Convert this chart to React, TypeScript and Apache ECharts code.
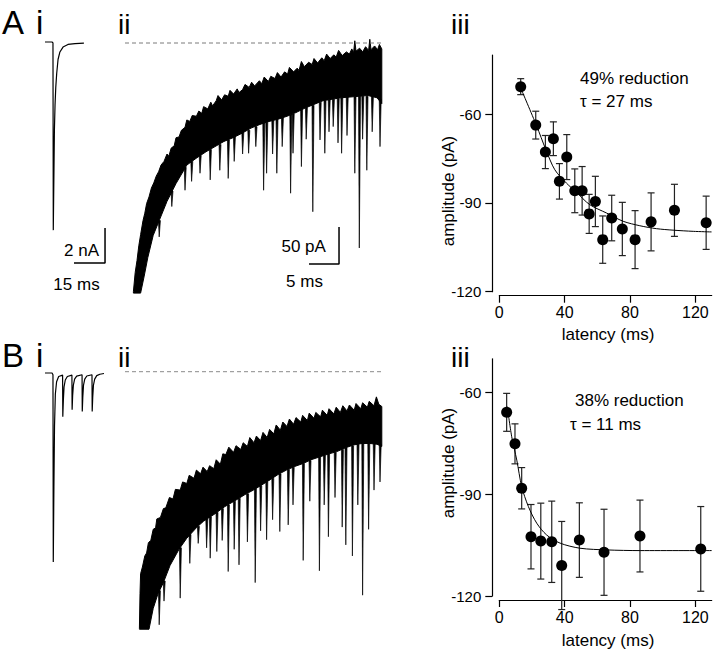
import React, { useEffect, useRef } from 'react';
import * as echarts from 'echarts';

const FONT = '"Liberation Sans", Arial, Helvetica, sans-serif';

// ---------- Panel i traces (time in ms, current in nA) ----------
const AI_TRACE = [
  [0, 0], [3.4, 0], [3.85, -0.05], [4.0, -10.75], [4.3, -7.6], [4.55, -5.0], [4.85, -3.6],
  [5.2, -2.6], [5.65, -1.8], [6.3, -1.0], [7.2, -0.57], [8.7, -0.29], [11.1, -0.14],
  [14.5, -0.09], [18.8, -0.06],
];
const BI_TRACE = [
  [0, 0], [3.4, 0], [3.85, -0.1], [4.0, -10.8], [4.3, -6.5], [4.6, -3.0], [5.0, -1.2],
  [5.6, -0.5], [6.6, -0.2], [8.5, -0.12],
  [8.6, -2.5], [8.85, -1.6], [9.2, -0.8], [9.8, -0.4], [10.8, -0.2], [13.0, -0.12],
  [13.1, -2.1], [13.35, -1.3], [13.7, -0.7], [14.3, -0.35], [15.3, -0.18], [17.9, -0.1],
  [18.0, -2.2], [18.25, -1.4], [18.6, -0.7], [19.2, -0.35], [20.2, -0.17], [22.7, -0.1],
  [22.8, -2.2], [23.05, -1.4], [23.4, -0.7], [24.0, -0.35], [25.0, -0.15], [26.5, -0.07], [28.5, -0.03],
];
const AI_SCALEBAR = [[14.0, -12.63], [29.0, -12.63], [29.0, -10.63]];

// ---------- Panel ii traces (time in ms, current in pA) ----------
const AII_UPPER = [
  [1.4, -336], [1.7, -310], [2.0, -294], [2.3, -274], [2.6, -259], [3.0, -240], [3.3, -230], [3.6, -217],
  [4.0, -208], [4.4, -196], [4.8, -189], [5.2, -180], [5.6, -174], [6.0, -165], [6.5, -160], [7.0, -150],
  [7.3, -153], [7.7, -142], [8.2, -139], [8.5, -128], [9.0, -127], [9.4, -118], [10.0, -114], [10.3, -104],
  [10.8, -106], [11.2, -98], [11.9, -99], [12.3, -92], [12.8, -95], [13.1, -86], [13.8, -89], [14.3, -80],
  [14.6, -85], [15.2, -78], [15.5, -71], [16.1, -77], [16.6, -70], [17.2, -72], [17.5, -64], [18.1, -69],
  [18.7, -62], [19.0, -67], [19.6, -63], [20.0, -56], [20.7, -60], [21.1, -53], [21.6, -58], [22.4, -51],
  [22.8, -55], [23.2, -46], [23.9, -52], [24.3, -45], [25.0, -48], [25.4, -40], [26.0, -46], [26.6, -39],
  [27.1, -42], [27.4, -33], [28.1, -39], [28.7, -34], [29.0, -37], [29.4, -25], [29.9, -32], [30.6, -26],
  [31.2, -29], [31.5, -21], [32.1, -27], [32.8, -20], [33.2, -24], [33.6, -15], [34.2, -21], [34.8, -16],
  [35.2, -19], [35.6, -10], [36.2, -17], [36.9, -12], [37.4, -15], [37.8, -8], [38.1, -13], [38.3, 3],
  [38.5, -11], [39.1, -7], [39.6, -12], [40.1, -5], [40.6, -10], [40.8, 5], [41.0, -9], [41.6, -4],
  [42.1, -9], [42.4, -2], [42.8, -8],
];
const AII_LOWER = [
  [1.4, -338], [2.6, -338], [3.2, -315], [3.8, -290], [4.7, -260], [5.8, -238], [7.0, -214], [8.5, -190],
  [10.3, -165], [12.0, -155], [13.5, -147], [15.0, -140], [16.5, -133], [18.0, -128], [19.5, -122],
  [21.0, -115], [22.5, -110], [24.0, -106], [25.5, -103], [27.0, -99], [28.5, -94], [30.0, -88],
  [31.5, -83], [33.0, -78], [34.5, -76], [36.0, -74], [37.5, -73], [39.0, -72], [40.5, -71], [42.0, -74],
  [42.8, -82],
];
// spontaneous events: [time, base, peak]
const AII_EVENTS = [
  [5.7, -240, -262], [7.8, -200, -221], [10.0, -168, -199], [11.1, -160, -187], [12.5, -152, -176],
  [14.2, -144, -185], [15.8, -137, -172], [17.2, -131, -183], [18.2, -127, -160], [19.6, -121, -150],
  [20.6, -118, -149], [21.8, -113, -140], [23.1, -108, -199], [23.6, -107, -176], [24.6, -105, -150],
  [25.3, -103, -176], [26.2, -101, -140], [27.6, -97, -203], [28.0, -96, -149], [29.4, -90, -167],
  [30.2, -87, -130], [31.3, -84, -228], [32.5, -80, -131], [33.3, -78, -149], [34.0, -77, -120],
  [34.7, -76, -113], [35.5, -75, -135], [36.1, -74, -149], [37.0, -73, -125], [38.3, -73, -176],
  [39.05, -72, -277], [39.6, -72, -130], [40.3, -72, -172], [41.2, -72, -120], [42.5, -76, -140],
];
const AII_SCALEBAR = [[30.67, -298.6], [35.67, -298.6], [35.67, -248.6]];

const BII_UPPER = [
  [2.4, -347], [2.5, -300], [2.6, -273], [2.9, -264], [3.3, -249], [3.6, -245], [3.9, -231], [4.3, -228],
  [4.7, -213], [5.1, -211], [5.3, -199], [5.9, -197], [6.4, -185], [6.8, -184], [7.4, -170], [8.0, -172],
  [8.4, -159], [9.2, -160], [9.6, -149], [10.3, -151], [10.7, -140], [11.5, -144], [11.9, -133], [12.6, -138],
  [13.0, -129], [13.7, -135], [14.1, -127], [14.8, -131], [15.2, -119], [15.9, -125], [16.3, -111], [16.8, -112],
  [17.3, -102], [18.1, -109], [18.5, -100], [19.3, -105], [19.7, -96], [20.4, -101], [20.8, -89], [21.5, -96],
  [21.9, -87], [22.6, -93], [23.0, -82], [23.7, -89], [24.1, -78], [24.8, -84], [25.2, -72], [25.9, -79],
  [26.3, -68], [27.0, -74], [27.4, -64], [28.1, -71], [28.5, -62], [29.3, -68], [29.6, -59], [30.4, -66],
  [30.7, -56], [31.5, -63], [31.8, -55], [32.6, -61], [32.9, -52], [33.7, -59], [34.0, -50], [34.8, -57],
  [35.2, -48], [35.9, -55], [36.3, -46], [37.0, -53], [37.4, -45], [38.2, -52], [38.5, -43], [39.3, -50],
  [39.6, -42], [40.4, -48], [40.7, -40], [41.5, -46], [41.9, -34], [42.3, -44], [42.8, -47],
];
const BII_LOWER = [
  [2.4, -348], [4.0, -348], [4.7, -320], [5.5, -300], [6.4, -285], [7.5, -262], [9.0, -240], [10.3, -225],
  [12.0, -210], [13.1, -202], [15.0, -192], [16.5, -183], [18.6, -173], [20.0, -166], [21.4, -160],
  [23.0, -152], [24.2, -146], [25.5, -139], [26.9, -133], [28.3, -128], [29.7, -124], [31.0, -119],
  [32.5, -115], [34.0, -111], [35.3, -108], [36.7, -103], [38.1, -99], [39.5, -97], [40.8, -97],
  [42.0, -98], [42.8, -101],
];
const BII_EVENTS = [
  [5.7, -296, -342], [6.5, -283, -310], [9.2, -238, -306], [10.8, -220, -259], [12.2, -209, -232],
  [13.6, -199, -238], [14.2, -196, -252], [15.3, -190, -243], [16.2, -185, -228], [17.2, -180, -270],
  [18.2, -175, -240], [19.0, -171, -261], [20.4, -165, -230], [21.7, -158, -285], [22.6, -154, -215],
  [23.6, -149, -227], [24.6, -144, -200], [25.8, -138, -216], [27.2, -132, -207], [28.0, -129, -180],
  [29.7, -124, -255], [30.8, -120, -175], [32.4, -115, -269], [33.2, -113, -180], [33.9, -111, -223],
  [35.0, -109, -170], [36.2, -105, -210], [36.8, -103, -234], [37.9, -100, -249], [38.8, -98, -180],
  [39.6, -97, -302], [40.6, -97, -213], [41.5, -97, -160], [42.5, -98, -149],
];
const BASELINE = [[0, 0], [43, 0]];

// ---------- Panel iii: amplitude vs latency ----------
const A_LATENCY = [13.1, 22.3, 28.2, 33.1, 36.8, 41.3, 46.2, 50.7, 55.0, 58.8, 63.3, 68.8, 75.3, 83.1, 92.9, 107.2, 126.6];
const A_AMPLITUDE = [-50.7, -63.7, -72.8, -68.3, -82.7, -74.5, -85.9, -85.9, -93.7, -89.5, -102.4, -95.1, -98.8, -102.4, -96.4, -92.5, -96.7];
const A_SEM = [2.7, 4.7, 5.6, 5.7, 6.0, 7.6, 7.4, 8.2, 6.6, 8.5, 8.0, 7.7, 9.0, 9.8, 9.8, 8.8, 9.0];
const A_FIT_T = [13.6, 22.8, 28.5, 34.0, 41.1, 47.2, 55.4, 65.6, 75.8, 86.0, 96.2, 106.4, 118.7, 129.9];
const A_FIT_V = [-51.8, -63.9, -72.0, -78.8, -83.3, -86.4, -90.6, -93.4, -96.2, -97.7, -98.7, -99.2, -99.6, -99.8];

const B_LATENCY = [4.5, 9.6, 13.7, 19.4, 25.4, 32.1, 38.2, 49.0, 64.1, 86.1, 123.3];
const B_AMPLITUDE = [-65.8, -75.1, -88.2, -102.5, -103.8, -104.0, -111.0, -103.5, -107.1, -102.3, -106.1];
const B_SEM = [5.6, 5.9, 6.1, 9.5, 11.2, 12.0, 13.0, 11.0, 12.7, 10.6, 12.5];
const B_FIT_T = [4.9, 7.6, 10.7, 13.7, 17.8, 22.9, 29.0, 37.2, 49.4, 65.8, 86.2, 130];
const B_FIT_V = [-64.1, -73.0, -79.9, -87.7, -93.6, -98.5, -102.0, -104.4, -105.9, -106.4, -106.6, -106.6];

const X_TICKS = [0, 40, 80, 120];
const Y_TICKS = [-120, -90, -60];

const zip = (a: number[], b: number[]) => a.map((v, i) => [v, b[i]]);

function lineSeries(data: number[][], xi: number, color = '#000', width = 1.2, extra: any = {}) {
  return {
    type: 'line', xAxisIndex: xi, yAxisIndex: xi, data, symbol: 'none', clip: false,
    lineStyle: { color, width }, z: 3, ...extra,
  };
}

function bandSeries(upper: number[][], lower: number[][], xi: number) {
  return {
    type: 'custom', xAxisIndex: xi, yAxisIndex: xi, clip: false, z: 2,
    data: [upper[0]], encode: { x: 0, y: 1 },
    renderItem: (_p: any, api: any) => {
      const pts = upper.map((p) => api.coord(p)).concat(lower.slice().reverse().map((p) => api.coord(p)));
      return { type: 'polygon', shape: { points: pts }, style: { fill: '#000', stroke: '#000', lineWidth: 1 } };
    },
  };
}

function eventSeries(events: number[][], xi: number) {
  return {
    type: 'custom', xAxisIndex: xi, yAxisIndex: xi, clip: false, z: 2,
    data: events, encode: { x: 0, y: [1, 2] },
    renderItem: (_p: any, api: any) => {
      const t = api.value(0), b = api.value(1), pk = api.value(2);
      const pts = [api.coord([t - 0.13, b]), api.coord([t, pk]), api.coord([t + 0.2, b])];
      return { type: 'polygon', shape: { points: pts }, style: { fill: '#000', stroke: '#000', lineWidth: 0.7 } };
    },
  };
}

function errorSeries(lat: number[], amp: number[], sem: number[], xi: number) {
  return {
    type: 'custom', xAxisIndex: xi, yAxisIndex: xi, clip: false, z: 3,
    data: lat.map((v, i) => [v, amp[i], sem[i]]), encode: { x: 0, y: 1 },
    renderItem: (_p: any, api: any) => {
      const x = api.value(0), y = api.value(1), e = api.value(2);
      const top = api.coord([x, y + e]);
      const bot = api.coord([x, y - e]);
      const st = { stroke: '#222', lineWidth: 1.2 };
      const cw = 3.5;
      return {
        type: 'group',
        children: [
          { type: 'line', shape: { x1: top[0], y1: top[1], x2: bot[0], y2: bot[1] }, style: st },
          { type: 'line', shape: { x1: top[0] - cw, y1: top[1], x2: top[0] + cw, y2: top[1] }, style: st },
          { type: 'line', shape: { x1: bot[0] - cw, y1: bot[1], x2: bot[0] + cw, y2: bot[1] }, style: st },
        ],
      };
    },
  };
}

function txt(text: string, x: number, y: number, size: number, align = 'left', rotation = 0) {
  return {
    type: 'text', x, y, rotation, z: 10,
    style: { text, fontSize: size, fontFamily: FONT, fill: '#000', align, verticalAlign: 'middle' },
  };
}

const hiddenX = (gi: number, min: number, max: number) => ({ type: 'value', gridIndex: gi, min, max, show: false });

function plotX(gi: number) {
  return {
    type: 'value', gridIndex: gi, min: 0, max: 130, interval: 40, offset: 4,
    axisLine: { show: true, onZero: false, lineStyle: { color: '#000', width: 1.2 } },
    axisTick: { show: true, length: 7, customValues: X_TICKS, lineStyle: { color: '#000', width: 1.2 } },
    axisLabel: { customValues: X_TICKS, color: '#000', fontSize: 16, fontFamily: FONT, margin: 9 },
    splitLine: { show: false },
  };
}
function plotY(gi: number, max: number) {
  return {
    type: 'value', gridIndex: gi, min: -120, max, interval: 30, offset: 7,
    axisLine: { show: true, onZero: false, lineStyle: { color: '#000', width: 1.2 } },
    axisTick: { show: true, length: 7, customValues: Y_TICKS, lineStyle: { color: '#000', width: 1.2 } },
    axisLabel: { customValues: Y_TICKS, color: '#000', fontSize: 15, fontFamily: FONT, margin: 11 },
    splitLine: { show: false },
  };
}

function scatterSeries(lat: number[], amp: number[], xi: number) {
  return {
    type: 'scatter', xAxisIndex: xi, yAxisIndex: xi, data: zip(lat, amp), symbol: 'circle', symbolSize: 11,
    itemStyle: { color: '#000', opacity: 1 }, z: 5,
  };
}

export default function App() {
  const ref = useRef<HTMLDivElement>(null);
  useEffect(() => {
    if (!ref.current) return;
    const chart = echarts.init(ref.current, undefined, { renderer: 'svg' });
    const option: any = {
      animation: false,
      backgroundColor: '#fff',
      textStyle: { fontFamily: FONT },
      grid: [
        { left: 45, top: 24.5, width: 62.1, height: 245 },      // A i
        { left: 125, top: 43, width: 258, height: 255.3 },      // A ii
        { left: 499.3, top: 55, width: 212.4, height: 236.7 },  // A iii
        { left: 45, top: 355.5, width: 62.1, height: 245 },     // B i
        { left: 125, top: 371.7, width: 258, height: 262.7 },   // B ii
        { left: 499.3, top: 358.8, width: 212.4, height: 237.2 }, // B iii
      ],
      xAxis: [
        hiddenX(0, 0, 30), hiddenX(1, 0, 43), plotX(2),
        hiddenX(3, 0, 30), hiddenX(4, 0, 43), plotX(5),
      ],
      yAxis: [
        hiddenX(0, -13, 1), hiddenX(1, -345, 0), plotY(2, -40),
        hiddenX(3, -13, 1), hiddenX(4, -355, 0), plotY(5, -50),
      ],
      series: [
        lineSeries(AI_TRACE, 0, '#000', 1.2),
        lineSeries(AI_SCALEBAR, 0, '#000', 1.5),
        lineSeries(BASELINE, 1, '#7a7a7a', 1, { lineStyle: { color: '#7a7a7a', width: 1, type: [4, 3] } }),
        bandSeries(AII_UPPER, AII_LOWER, 1),
        eventSeries(AII_EVENTS, 1),
        lineSeries(AII_SCALEBAR, 1, '#000', 1.5),
        errorSeries(A_LATENCY, A_AMPLITUDE, A_SEM, 2),
        lineSeries(zip(A_FIT_T, A_FIT_V), 2, '#000', 1, { smooth: 0.3 }),
        scatterSeries(A_LATENCY, A_AMPLITUDE, 2),

        lineSeries(BI_TRACE, 3, '#000', 1.2),
        lineSeries(BASELINE, 4, '#8a8a8a', 1, { lineStyle: { color: '#8a8a8a', width: 1, type: [4, 3] } }),
        bandSeries(BII_UPPER, BII_LOWER, 4),
        eventSeries(BII_EVENTS, 4),
        errorSeries(B_LATENCY, B_AMPLITUDE, B_SEM, 5),
        lineSeries(zip(B_FIT_T, B_FIT_V), 5, '#000', 1, { smooth: 0.3 }),
        scatterSeries(B_LATENCY, B_AMPLITUDE, 5),
      ],
      graphic: [
        txt('A', 2, 22.5, 33),
        txt('i', 36, 22.5, 33),
        txt('ii', 118, 24.2, 28),
        txt('iii', 451, 24.2, 28),
        txt('B', 2, 355.5, 33),
        txt('i', 36, 355.5, 33),
        txt('ii', 118, 357.2, 28),
        txt('iii', 451, 357.2, 28),
        txt('2 nA', 99, 250, 17, 'right'),
        txt('15 ms', 76.5, 284, 17, 'center'),
        txt('50 pA', 303.7, 246, 17, 'center'),
        txt('5 ms', 304.5, 281, 17, 'center'),
        txt('49% reduction', 580, 78, 17),
        txt('τ = 27 ms', 580, 101, 17),
        txt('38% reduction', 575, 400, 17),
        txt('τ = 11 ms', 570, 424, 17),
        txt('amplitude (pA)', 448, 191, 17, 'center', Math.PI / 2),
        txt('amplitude (pA)', 448, 463, 17, 'center', Math.PI / 2),
        txt('latency (ms)', 608, 334, 17, 'center'),
        txt('latency (ms)', 608, 640, 17, 'center'),
      ],
    };
    chart.setOption(option);
    return () => chart.dispose();
  }, []);
  return <div ref={ref} style={{ position: 'absolute', left: 0, top: 0, width: 720, height: 659, background: '#fff' }} />;
}
